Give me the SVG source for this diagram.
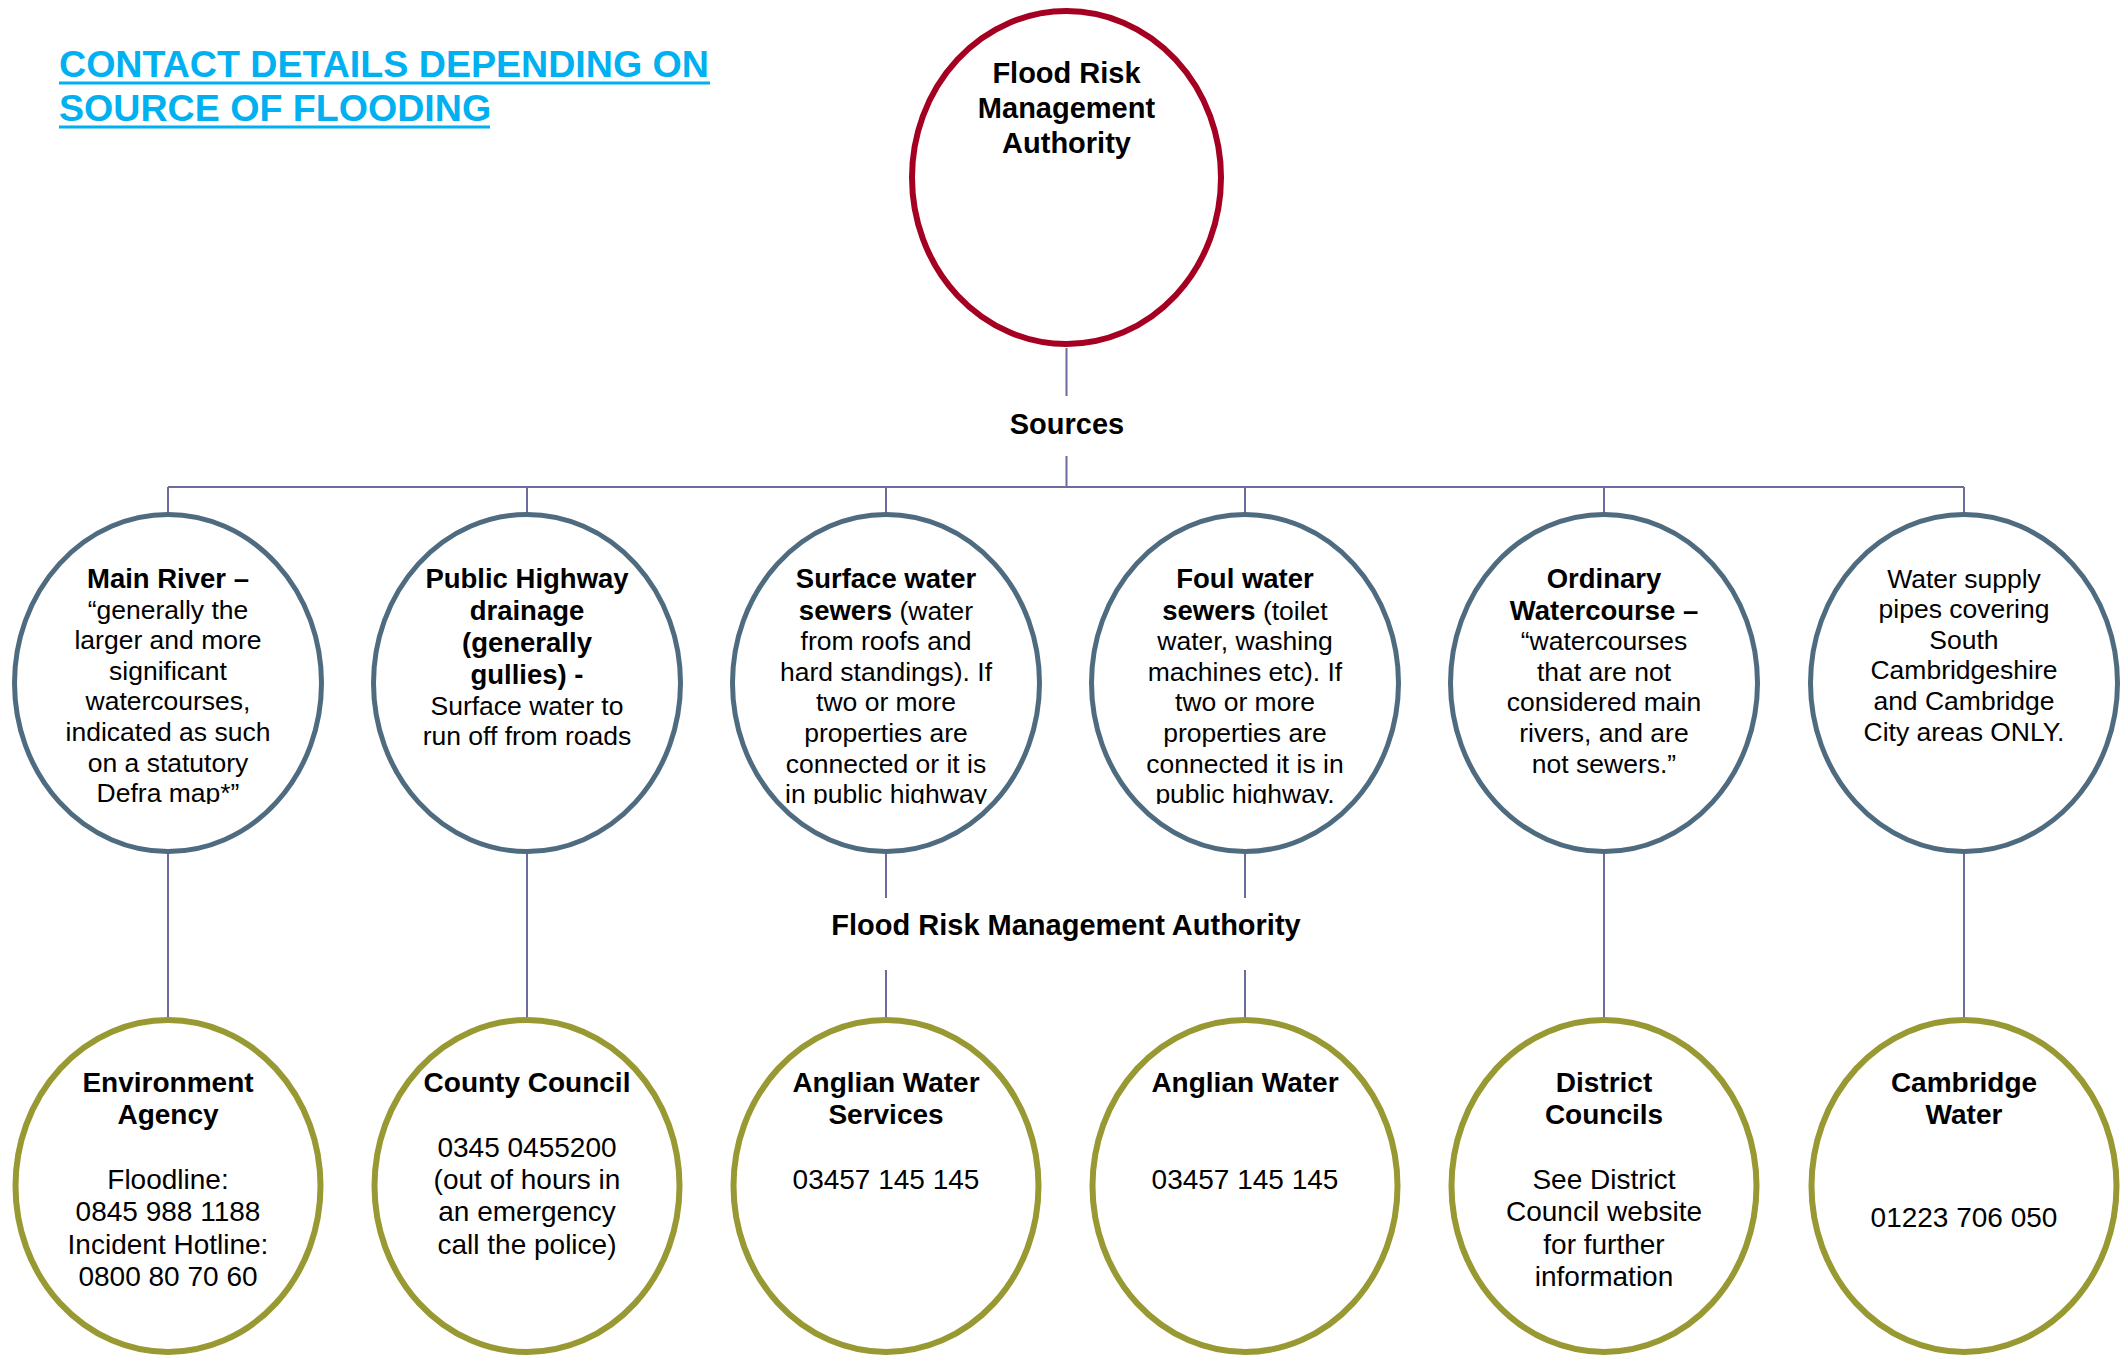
<svg xmlns="http://www.w3.org/2000/svg" width="2125" height="1356" viewBox="0 0 2125 1356">
<style>
text{font-family:"Liberation Sans",Arial,sans-serif;fill:#000;text-anchor:middle}
.title{font-size:37.6px;font-weight:bold;fill:#00B0F0;text-anchor:start}
.hd{font-size:29px;font-weight:bold}
.m{font-size:26.5px}
.mb{font-weight:bold;font-size:27.5px}
.b{font-size:28px}
.bb{font-weight:bold}
.top{fill:#fff;stroke:#A50021;stroke-width:6}
.src{fill:#fff;stroke:#4E6B80;stroke-width:5}
.con{fill:#fff;stroke:#999933;stroke-width:6}
.ln{stroke:#6B6B9E;stroke-width:2;fill:none}
</style>
<defs>
<clipPath id="midclip"><rect x="0" y="0" width="2125" height="804"/></clipPath>
</defs>
<rect width="2125" height="1356" fill="#fff"/>

<g id="title">
<rect x="59" y="81.5" width="651" height="3" fill="#00B0F0"/>
<rect x="59" y="125.5" width="431" height="3" fill="#00B0F0"/>
<text class="title" x="59" y="76.7">CONTACT DETAILS DEPENDING ON</text>
<text class="title" x="59" y="120.7">SOURCE OF FLOODING</text>
</g>

<g id="connectors">
<path class="ln" d="M1066.5 348V396M1066.5 456V487M168 487H1964M168 487V512M527 487V512M886 487V512M1245 487V512M1604 487V512M1964 487V512"/>
<path class="ln" d="M168 853V1018M527 853V1018M886 853V898M886 970V1018M1245 853V898M1245 970V1018M1604 853V1018M1964 853V1018"/>
</g>

<g id="label-sources"><text class="hd" x="1067" y="434">Sources</text></g>
<g id="label-frma"><text class="hd" x="1066" y="935">Flood Risk Management Authority</text></g>

<g id="node-frma">
<ellipse class="top" cx="1066.5" cy="177.5" rx="154.5" ry="166.5"/>
<text class="hd" x="1066.5" y="83">Flood Risk</text>
<text class="hd" x="1066.5" y="118">Management</text>
<text class="hd" x="1066.5" y="153">Authority</text>
</g>

<g id="node-main-river">
<ellipse class="src" cx="168" cy="683" rx="153.5" ry="168.5"/>
<g clip-path="url(#midclip)">
<text class="mb" x="168" y="587.5">Main River –</text>
<text class="m" x="168" y="618.5">“generally the</text>
<text class="m" x="168" y="649.1">larger and more</text>
<text class="m" x="168" y="679.7">significant</text>
<text class="m" x="168" y="710.3">watercourses,</text>
<text class="m" x="168" y="740.9">indicated as such</text>
<text class="m" x="168" y="771.5">on a statutory</text>
<text class="m" x="168" y="802.1">Defra map*”</text>
</g>
</g>

<g id="node-highway">
<ellipse class="src" cx="527" cy="683" rx="153.5" ry="168.5"/>
<g clip-path="url(#midclip)">
<text class="mb" x="527" y="587.5">Public Highway</text>
<text class="mb" x="527" y="619.5">drainage</text>
<text class="mb" x="527" y="651.5">(generally</text>
<text class="mb" x="527" y="683.5">gullies) -</text>
<text class="m" x="527" y="714.5">Surface water to</text>
<text class="m" x="527" y="745.1">run off from roads</text>
</g>
</g>

<g id="node-surface-sewers">
<ellipse class="src" cx="886" cy="683" rx="153.5" ry="168.5"/>
<g clip-path="url(#midclip)">
<text class="mb" x="886" y="587.5">Surface water</text>
<text class="m" x="886" y="619.5"><tspan class="mb">sewers</tspan> (water</text>
<text class="m" x="886" y="650.1">from roofs and</text>
<text class="m" x="886" y="680.7">hard standings). If</text>
<text class="m" x="886" y="711.3">two or more</text>
<text class="m" x="886" y="741.9">properties are</text>
<text class="m" x="886" y="772.5">connected or it is</text>
<text class="m" x="886" y="803.1">in public highway</text>
</g>
</g>

<g id="node-foul-sewers">
<ellipse class="src" cx="1245" cy="683" rx="153.5" ry="168.5"/>
<g clip-path="url(#midclip)">
<text class="mb" x="1245" y="587.5">Foul water</text>
<text class="m" x="1245" y="619.5"><tspan class="mb">sewers</tspan> (toilet</text>
<text class="m" x="1245" y="650.1">water, washing</text>
<text class="m" x="1245" y="680.7">machines etc). If</text>
<text class="m" x="1245" y="711.3">two or more</text>
<text class="m" x="1245" y="741.9">properties are</text>
<text class="m" x="1245" y="772.5">connected it is in</text>
<text class="m" x="1245" y="803.1">public highway.</text>
</g>
</g>

<g id="node-ordinary">
<ellipse class="src" cx="1604" cy="683" rx="153.5" ry="168.5"/>
<g clip-path="url(#midclip)">
<text class="mb" x="1604" y="587.5">Ordinary</text>
<text class="mb" x="1604" y="619.5">Watercourse –</text>
<text class="m" x="1604" y="650.1">“watercourses</text>
<text class="m" x="1604" y="680.7">that are not</text>
<text class="m" x="1604" y="711.3">considered main</text>
<text class="m" x="1604" y="741.9">rivers, and are</text>
<text class="m" x="1604" y="772.5">not sewers.”</text>
</g>
</g>

<g id="node-water-supply">
<ellipse class="src" cx="1964" cy="683" rx="153.5" ry="168.5"/>
<g clip-path="url(#midclip)">
<text class="m" x="1964" y="587.5">Water supply</text>
<text class="m" x="1964" y="618.1">pipes covering</text>
<text class="m" x="1964" y="648.7">South</text>
<text class="m" x="1964" y="679.3">Cambridgeshire</text>
<text class="m" x="1964" y="709.9">and Cambridge</text>
<text class="m" x="1964" y="740.5">City areas ONLY.</text>
</g>
</g>

<g id="node-environment-agency">
<ellipse class="con" cx="168" cy="1186" rx="152.5" ry="166"/>
<text class="b bb" x="168" y="1091.5">Environment</text>
<text class="b bb" x="168" y="1124">Agency</text>
<text class="b" x="168" y="1188.7">Floodline:</text>
<text class="b" x="168" y="1221.1">0845 988 1188</text>
<text class="b" x="168" y="1253.5">Incident Hotline:</text>
<text class="b" x="168" y="1285.9">0800 80 70 60</text>
</g>

<g id="node-county-council">
<ellipse class="con" cx="527" cy="1186" rx="152.5" ry="166"/>
<text class="b bb" x="527" y="1091.5">County Council</text>
<text class="b" x="527" y="1156.5">0345 0455200</text>
<text class="b" x="527" y="1188.7">(out of hours in</text>
<text class="b" x="527" y="1221.1">an emergency</text>
<text class="b" x="527" y="1253.5">call the police)</text>
</g>

<g id="node-anglian-water-services">
<ellipse class="con" cx="886" cy="1186" rx="152.5" ry="166"/>
<text class="b bb" x="886" y="1091.5">Anglian Water</text>
<text class="b bb" x="886" y="1124">Services</text>
<text class="b" x="886" y="1188.5">03457 145 145</text>
</g>

<g id="node-anglian-water">
<ellipse class="con" cx="1245" cy="1186" rx="152.5" ry="166"/>
<text class="b bb" x="1245" y="1091.5">Anglian Water</text>
<text class="b" x="1245" y="1188.5">03457 145 145</text>
</g>

<g id="node-district-councils">
<ellipse class="con" cx="1604" cy="1186" rx="152.5" ry="166"/>
<text class="b bb" x="1604" y="1091.5">District</text>
<text class="b bb" x="1604" y="1124">Councils</text>
<text class="b" x="1604" y="1188.7">See District</text>
<text class="b" x="1604" y="1221.1">Council website</text>
<text class="b" x="1604" y="1253.5">for further</text>
<text class="b" x="1604" y="1285.9">information</text>
</g>

<g id="node-cambridge-water">
<ellipse class="con" cx="1964" cy="1186" rx="152.5" ry="166"/>
<text class="b bb" x="1964" y="1091.5">Cambridge</text>
<text class="b bb" x="1964" y="1124">Water</text>
<text class="b" x="1964" y="1226.5">01223 706 050</text>
</g>
</svg>
